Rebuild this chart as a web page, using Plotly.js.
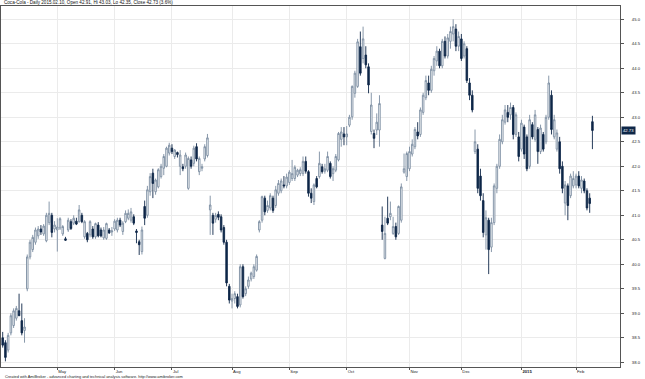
<!DOCTYPE html>
<html>
<head>
<meta charset="utf-8">
<script src="https://cdn.plot.ly/plotly-3.0.1.min.js"></script>
<style>html,body{margin:0;padding:0;background:#fff;}#chart{width:645px;height:379px;}</style>
</head>
<body>
<div id="chart"></div>
<script>
// Trading days per month (day-of-month numbers)
const tradingDays = [
  ["2014-04", [2,3,4,7,8,9,10,11,14,15,16,17,21,22,23,24,25,28,29,30]],
  ["2014-05", [1,2,5,6,7,8,9,12,13,14,15,16,19,20,21,22,23,27,28,29,30]],
  ["2014-06", [2,3,4,5,6,9,10,11,12,13,16,17,18,19,20,23,24,25,26,27,30]],
  ["2014-07", [1,2,3,7,8,9,10,11,14,15,16,17,18,21,22,23,24,25,28,29,30,31]],
  ["2014-08", [1,4,5,6,7,8,11,12,13,14,15,18,19,20,21,22,25,26,27,28,29]],
  ["2014-09", [2,3,4,5,8,9,10,11,12,15,16,17,18,19,22,23,24,25,26,29,30]],
  ["2014-10", [1,2,3,6,7,8,9,10,13,14,15,16,17,20,21,22,23,24,27,28,29,30,31]],
  ["2014-11", [3,4,5,6,7,10,11,12,13,14,17,18,19,20,21,24,25,26,28]],
  ["2014-12", [1,2,3,4,5,8,9,10,11,12,15,16,17,18,19,22,23,24,26,29,30,31]],
  ["2015-01", [2,5,6,7,8,9,12,13,14,15,16,20,21,22,23,26,27,28,29,30]],
  ["2015-02", [2,3,4,5,6,9,10]]
];
const tickLabels = ["May","Jun","Jul","Aug","Sep","Oct","Nov","Dec","<b>2015</b>","Feb"];

const open = [
  38.50,38.40,38.25,38.60,38.75,38.90,39.05,38.85,38.65,39.50,40.15,40.30,40.45,40.58,40.72,40.62,40.48,40.85,41.00,40.72,
  40.70,40.74,40.62,40.52,40.70,40.87,40.84,40.88,40.87,41.00,40.56,40.63,40.60,40.72,40.56,40.80,40.70,40.54,40.53,40.70,40.66,
  40.72,40.70,40.90,40.67,40.87,40.94,40.90,40.97,40.68,40.46,40.26,41.18,41.00,41.48,41.86,41.48,41.58,41.79,41.96,42.00,42.27,
  42.37,42.20,42.28,42.00,41.99,42.00,41.55,42.13,42.06,42.40,41.89,41.96,42.15,42.22,41.11,41.00,40.92,41.02,40.97,40.75,40.45,39.55,
  39.25,39.30,39.34,39.17,39.95,39.40,39.55,39.70,39.75,39.88,40.70,40.90,41.35,41.10,41.15,41.35,41.20,41.45,41.50,41.62,41.60,
  41.67,41.75,41.75,41.82,41.85,41.85,42.10,41.89,41.45,41.28,41.75,41.79,41.99,41.90,41.92,42.06,41.85,41.92,42.13,42.55,42.66,
  42.60,42.84,43.01,43.49,43.63,44.44,44.20,44.27,44.03,42.71,42.67,42.74,42.74,40.80,40.12,40.94,40.97,40.63,40.77,40.63,40.90,41.88,41.79,
  41.95,42.25,42.40,42.70,42.65,43.10,43.40,43.70,43.55,43.95,44.15,44.35,44.05,44.55,44.25,44.55,44.70,44.80,44.45,
  44.60,44.25,44.40,43.70,43.45,42.30,42.35,41.80,41.30,40.60,40.90,40.35,40.85,41.55,42.00,42.50,42.90,43.10,43.05,43.20,42.65,42.60,
  42.35,42.80,42.60,42.00,42.85,42.55,42.75,42.30,42.65,42.50,43.00,43.45,42.60,42.35,42.50,42.00,41.25,41.60,41.40,41.60,
  41.62,41.80,41.55,41.70,41.50,41.35,42.91
];
const high = [
  38.62,38.45,38.60,39.00,39.10,39.15,39.40,39.20,38.90,40.20,40.50,40.60,40.75,40.78,40.80,40.82,41.05,41.28,41.05,40.88,
  40.94,40.96,40.80,40.56,40.95,40.92,41.00,40.95,41.21,41.05,40.90,40.66,40.90,40.78,40.85,40.86,40.75,40.76,40.85,40.74,40.76,
  40.92,40.95,40.95,40.88,41.10,41.12,41.15,41.02,40.72,40.50,40.77,41.30,41.60,41.86,41.95,41.75,41.96,42.05,42.25,42.40,42.48,
  42.45,42.35,42.30,42.33,42.05,42.28,42.20,42.20,42.42,42.47,42.20,42.05,42.45,42.66,41.40,41.05,41.05,41.08,41.02,40.80,40.50,39.60,
  39.40,39.45,39.40,40.00,40.00,39.55,39.75,39.85,40.00,40.20,40.90,41.40,41.40,41.30,41.45,41.40,41.60,41.72,41.75,41.80,41.85,
  41.92,42.13,42.02,41.95,41.98,42.20,42.20,41.92,41.55,41.65,41.80,42.30,42.05,42.05,42.30,42.10,42.00,42.25,42.70,42.80,42.80,
  42.82,43.05,43.65,43.95,44.60,44.75,44.85,44.45,44.10,43.50,42.75,43.08,43.45,41.18,40.97,41.38,41.28,40.97,40.85,41.20,41.65,42.26,42.30,
  42.40,42.55,42.80,42.90,43.20,43.50,43.85,43.85,44.05,44.25,44.45,44.40,44.60,44.65,44.70,44.85,45.00,44.90,44.75,
  44.70,44.55,44.45,43.80,43.55,42.75,42.45,41.95,41.45,41.10,40.95,40.95,41.65,42.05,42.65,43.05,43.25,43.25,43.30,43.25,43.10,42.70,
  42.95,42.85,42.65,43.05,42.90,43.15,42.80,42.85,42.70,43.05,43.85,43.55,43.05,42.75,42.60,42.10,41.70,41.65,41.85,41.90,
  41.85,41.90,41.80,41.75,41.55,41.45,43.03
];
const low = [
  38.30,38.02,38.20,38.55,38.70,38.85,38.95,38.55,38.40,39.45,40.10,40.25,40.40,40.52,40.60,40.58,40.45,40.80,40.55,40.65,
  40.26,40.70,40.58,40.48,40.66,40.70,40.80,40.80,40.85,40.84,40.52,40.45,40.55,40.52,40.52,40.55,40.55,40.50,40.50,40.62,40.58,
  40.68,40.65,40.76,40.60,40.84,40.90,40.85,40.80,40.43,40.19,40.20,40.80,40.95,41.40,41.35,41.42,41.55,41.75,41.82,41.98,42.22,
  42.25,42.15,42.18,41.82,41.90,41.95,41.52,41.95,42.00,42.10,41.82,41.90,42.10,42.18,40.60,40.60,40.85,40.90,40.65,40.40,39.55,39.20,
  39.10,39.20,39.10,39.12,39.30,39.35,39.50,39.65,39.70,39.85,40.65,40.85,41.00,41.05,41.10,41.05,41.15,41.40,41.45,41.55,41.55,
  41.62,41.70,41.70,41.78,41.80,41.80,41.85,41.38,41.25,41.21,41.55,41.75,41.85,41.85,41.88,41.75,41.70,41.88,42.10,42.40,42.43,
  42.43,42.80,42.95,43.40,43.60,43.85,44.10,44.00,43.49,42.65,42.37,42.64,42.40,40.50,40.10,40.80,40.90,40.60,40.50,40.60,40.85,41.85,41.70,
  41.90,42.20,42.35,42.55,42.60,43.05,43.35,43.45,43.50,43.85,44.05,44.00,44.00,44.20,44.20,44.40,44.55,44.35,44.35,
  44.15,44.20,43.70,43.35,43.10,42.25,41.45,41.30,40.55,40.30,39.80,40.25,40.80,41.45,41.95,42.45,42.85,42.90,42.95,42.55,42.60,42.10,
  42.30,42.15,41.90,41.95,42.55,42.50,42.05,42.25,42.30,42.45,42.95,42.65,42.55,42.30,41.85,41.45,41.00,40.90,41.35,41.55,
  41.55,41.55,41.45,41.45,41.10,41.05,42.35
];
const close = [
  38.35,38.10,38.55,38.95,39.05,39.10,38.95,38.60,38.72,40.15,40.45,40.55,40.70,40.72,40.66,40.78,41.00,41.04,40.65,40.80,
  40.76,40.93,40.77,40.49,40.90,40.73,40.94,40.82,41.11,40.87,40.87,40.50,40.87,40.56,40.83,40.58,40.58,40.70,40.83,40.64,40.68,
  40.88,40.90,40.80,40.84,41.04,41.04,41.07,40.84,40.65,40.40,40.70,40.94,41.52,41.79,41.65,41.72,41.93,42.00,42.20,42.37,42.43,
  42.30,42.33,42.24,42.23,41.95,42.23,42.16,42.00,42.37,42.15,42.16,41.99,42.40,42.58,41.21,40.84,41.00,40.96,40.70,40.45,39.62,39.27,
  39.30,39.40,39.14,39.95,39.34,39.50,39.68,39.82,39.95,40.16,40.87,41.38,41.07,41.20,41.40,41.10,41.52,41.65,41.70,41.60,41.78,
  41.88,41.85,41.98,41.92,41.93,42.10,41.90,41.45,41.35,41.62,41.58,42.06,41.89,41.95,42.20,41.79,41.95,42.20,42.67,42.70,42.60,
  42.66,43.00,43.63,43.90,44.54,43.90,44.60,44.07,43.66,43.25,42.57,42.90,43.28,40.67,40.63,40.84,41.04,40.77,40.56,41.18,41.58,41.95,42.26,
  42.30,42.45,42.75,42.62,43.15,43.45,43.75,43.55,43.98,44.20,44.35,44.05,44.55,44.25,44.62,44.75,44.85,44.45,44.65,
  44.20,44.50,43.75,43.45,43.15,42.50,41.55,41.40,40.65,40.95,40.30,40.85,41.60,42.00,42.55,42.95,43.15,43.00,43.20,42.65,43.05,42.20,
  42.88,42.25,41.95,42.95,42.60,43.05,42.30,42.78,42.35,43.00,43.70,42.75,42.95,42.68,41.95,41.55,41.62,41.20,41.80,41.75,
  41.80,41.60,41.72,41.50,41.15,41.24,42.73
];

const dates = [];
const monthStarts = [];
tradingDays.forEach(([ym, days], mi) => {
  days.forEach((d, di) => {
    const s = ym + "-" + String(d).padStart(2, "0");
    dates.push(s);
    if (di === 0 && mi > 0) monthStarts.push(s);
  });
});

const lastClose = close[close.length - 1];
const FONT = "Liberation Sans, Arial, sans-serif";

const trace = {
  type: "candlestick",
  x: dates, open: open, high: high, low: low, close: close,
  increasing: { line: { color: "#7a8ca0", width: 0.9 }, fillcolor: "#ffffff" },
  decreasing: { line: { color: "#0e2748", width: 0.9 }, fillcolor: "#0e2748" },
  whiskerwidth: 0,
  hoverinfo: "skip"
};

const layout = {
  width: 645, height: 379,
  margin: { l: 1, r: 25, t: 6, b: 12, pad: 0 },
  paper_bgcolor: "#ffffff", plot_bgcolor: "#ffffff",
  showlegend: false,
  boxgap: 0.2,
  font: { family: FONT, size: 4, color: "#222" },
  xaxis: {
    type: "category",
    range: [-0.62, 226.1],
    rangeslider: { visible: false },
    tickmode: "array", tickvals: monthStarts, ticktext: tickLabels,
    ticks: "outside", ticklen: 2, tickcolor: "#555",
    ticklabelposition: "outside right",
    tickfont: { family: FONT, size: 4.2, color: "#222" },
    showgrid: true, gridcolor: "#ebebeb", gridwidth: 1,
    showline: true, linecolor: "#555", linewidth: 1, mirror: true,
    zeroline: false, fixedrange: true
  },
  yaxis: {
    side: "right",
    range: [37.904, 45.271],
    tickmode: "linear", tick0: 38, dtick: 0.5, tickformat: ".1f",
    ticks: "outside", ticklen: 3, tickcolor: "#555",
    ticklabelstandoff: 7,
    tickfont: { family: FONT, size: 4.2, color: "#222" },
    showgrid: true, gridcolor: "#ebebeb", gridwidth: 1,
    showline: true, linecolor: "#555", linewidth: 1, mirror: true,
    zeroline: false, fixedrange: true
  },
  annotations: [
    {
      xref: "paper", yref: "paper", x: 0, y: 1, xanchor: "left", yanchor: "bottom",
      xshift: 1, yshift: -1,
      text: "Coca-Cola - Daily 2015.02.10, Open 42.91, Hi 43.03, Lo 42.35, Close 42.73 (3.6%)",
      showarrow: false, font: { family: FONT, size: 4.6, color: "#111" }
    },
    {
      xref: "paper", yref: "paper", x: 0, y: 0, xanchor: "left", yanchor: "top",
      xshift: 2, yshift: -5,
      text: "Created with AmiBroker - advanced charting and technical analysis software. http://www.amibroker.com",
      showarrow: false, font: { family: FONT, size: 3.9, color: "#222" }
    },
    {
      xref: "paper", yref: "y", x: 1, y: lastClose, xanchor: "left", yanchor: "middle",
      xshift: 1,
      text: lastClose.toFixed(2),
      showarrow: false, bgcolor: "#0e2748", borderpad: 1,
      font: { family: FONT, size: 4.2, color: "#ffffff" }
    }
  ]
};

Plotly.newPlot("chart", [trace], layout, { staticPlot: true, displayModeBar: false });
</script>
</body>
</html>
